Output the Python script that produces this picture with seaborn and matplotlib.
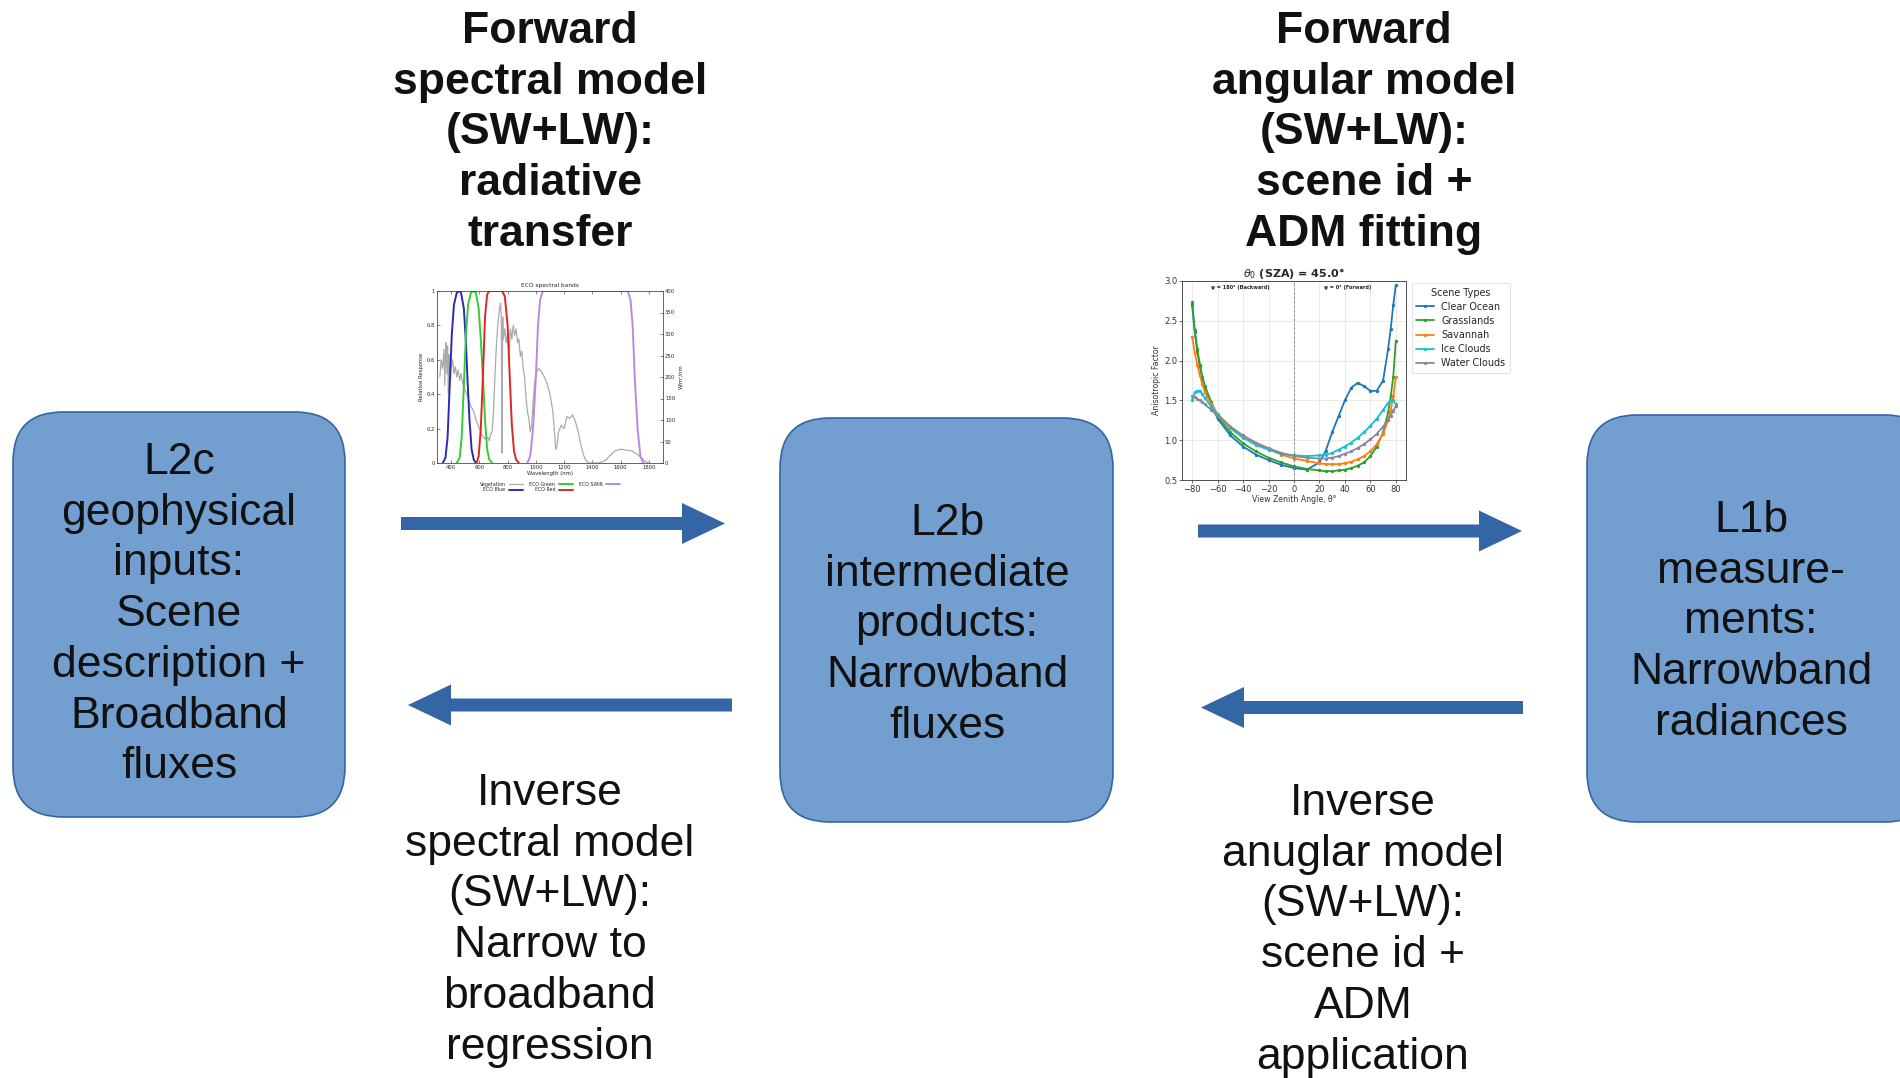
#flow diagram: spectral / angular forward and inverse models

import pandas as pd
import matplotlib
matplotlib.use('Agg')
import matplotlib.pyplot as plt
from matplotlib.patches import FancyBboxPatch, FancyArrow
import seaborn as sns

W, H = 1900, 1078

# --- spectral panel (ECO spectral bands)
veg_wl = [320, 330, 340, 350, 355, 360, 365, 370, 375, 380, 385, 390, 395, 400, 410, 420, 430, 440,
          450, 460, 470, 480, 490, 500, 520, 540, 560, 580, 600, 620, 640, 660, 670, 680, 690, 700,
          710, 720, 730, 740, 750, 755, 760, 762, 765, 770, 780, 790, 800, 810, 820, 830, 840, 850,
          860, 870, 880, 890, 900, 910, 920, 930, 940, 950, 960, 970, 980, 990, 1000, 1020, 1040,
          1060, 1080, 1100, 1120, 1130, 1140, 1150, 1160, 1180, 1200, 1220, 1240, 1260, 1280, 1300,
          1320, 1340, 1360, 1380, 1400, 1440, 1480, 1500, 1520, 1560, 1600, 1640, 1680, 1720, 1760,
          1780, 1800]
veg_resp = [0.50, 0.60, 0.55, 0.66, 0.45, 0.62, 0.70, 0.52, 0.68, 0.40, 0.63, 0.58, 0.48, 0.56, 0.60,
            0.52, 0.56, 0.50, 0.54, 0.48, 0.52, 0.47, 0.44, 0.42, 0.38, 0.33, 0.30, 0.24, 0.20, 0.16,
            0.14, 0.15, 0.13, 0.17, 0.18, 0.30, 0.50, 0.68, 0.80, 0.88, 0.93, 0.85, 0.06, 0.40, 0.85,
            0.72, 0.78, 0.70, 0.75, 0.62, 0.78, 0.72, 0.80, 0.74, 0.78, 0.70, 0.72, 0.62, 0.65, 0.55,
            0.50, 0.38, 0.30, 0.26, 0.18, 0.22, 0.35, 0.45, 0.52, 0.55, 0.53, 0.50, 0.46, 0.40, 0.30,
            0.20, 0.08, 0.10, 0.18, 0.22, 0.20, 0.27, 0.26, 0.28, 0.24, 0.18, 0.10, 0.04, 0.01, 0.0,
            0.0, 0.0, 0.01, 0.02, 0.04, 0.07, 0.08, 0.075, 0.07, 0.05, 0.02, 0.005, 0.0]
blue_wl = [340, 360, 375, 390, 405, 420, 440, 455, 470, 490, 505, 515, 530, 545, 560, 575]
blue_resp = [0, 0.03, 0.15, 0.45, 0.75, 0.92, 0.99, 1.0, 0.99, 0.9, 0.7, 0.5, 0.25, 0.08, 0.02, 0]
green_wl = [440, 460, 475, 490, 505, 520, 540, 558, 575, 595, 610, 625, 640, 655, 670, 690]
green_resp = [0, 0.03, 0.15, 0.45, 0.75, 0.92, 0.99, 1.0, 0.99, 0.9, 0.72, 0.5, 0.25, 0.08, 0.02, 0]
red_wl = [580, 595, 610, 625, 640, 655, 670, 760, 780, 800, 815, 830, 845, 860, 880]
red_resp = [0, 0.04, 0.2, 0.5, 0.85, 0.98, 1.0, 1.0, 0.97, 0.8, 0.5, 0.22, 0.07, 0.02, 0]
swir_wl = [940, 960, 980, 1000, 1015, 1030, 1050, 1650, 1670, 1685, 1700, 1720, 1740, 1760]
swir_resp = [0, 0.04, 0.2, 0.5, 0.8, 0.95, 1.0, 1.0, 0.95, 0.8, 0.5, 0.2, 0.04, 0]
band_names = ['Vegetation', 'ECO Blue', 'ECO Green', 'ECO Red', 'ECO SWIR']
band_colors = ['#ababab', '#2b2bb8', '#33cc33', '#dd2626', '#b48be0']
wl_ticks = [400, 600, 800, 1000, 1200, 1400, 1600, 1800]
irr_ticks = [0, 50, 100, 150, 200, 250, 300, 350, 400]

# --- angular panel (ADM)
vza = [-80, -78, -76, -74, -72, -70, -65, -60, -50, -40, -30, -20, -10, 0, 10, 20, 25, 30, 35,
       40, 45, 50, 55, 60, 65, 70, 74, 76, 78, 80]
clear_ocean = [2.7, 2.36, 2.12, 1.93, 1.78, 1.66, 1.45, 1.27, 1.06, 0.92, 0.82, 0.75, 0.69, 0.65, 0.63,
               0.72, 0.87, 1.1, 1.3, 1.5, 1.66, 1.72, 1.68, 1.62, 1.62, 1.75, 2.15, 2.4, 2.7, 2.95]
grasslands = [2.73, 2.38, 2.15, 1.95, 1.8, 1.68, 1.48, 1.3, 1.1, 0.96, 0.86, 0.78, 0.72, 0.67, 0.64,
              0.62, 0.61, 0.61, 0.62, 0.63, 0.65, 0.68, 0.72, 0.8, 0.92, 1.1, 1.35, 1.55, 1.8, 2.25]
savannah = [2.3, 2.1, 1.95, 1.82, 1.7, 1.6, 1.45, 1.33, 1.17, 1.05, 0.96, 0.89, 0.82, 0.77, 0.74,
            0.71, 0.7, 0.7, 0.7, 0.71, 0.73, 0.76, 0.8, 0.86, 0.95, 1.08, 1.25, 1.38, 1.55, 1.8]
ice_clouds = [1.5, 1.6, 1.62, 1.62, 1.58, 1.53, 1.42, 1.32, 1.15, 1.03, 0.94, 0.88, 0.83, 0.81, 0.8,
              0.81, 0.82, 0.84, 0.88, 0.92, 0.97, 1.03, 1.1, 1.18, 1.27, 1.38, 1.47, 1.5, 1.5, 1.45]
water_clouds = [1.55, 1.54, 1.52, 1.5, 1.48, 1.45, 1.38, 1.3, 1.17, 1.06, 0.97, 0.9, 0.84, 0.8, 0.78,
                0.77, 0.77, 0.78, 0.8, 0.83, 0.86, 0.9, 0.95, 1.01, 1.08, 1.17, 1.26, 1.31, 1.37, 1.43]
scene_types = ['Clear Ocean', 'Grasslands', 'Savannah', 'Ice Clouds', 'Water Clouds']
scene_colors = ['#1f77b4', '#2ca02c', '#ff7f0e', '#17becf', '#8a879a']
vza_ticks = [-80, -60, -40, -20, 0, 20, 40, 60, 80]
af_ticks = [0.5, 1.0, 1.5, 2.0, 2.5, 3.0]

# --- diagram texts
fwd_spectral = ['Forward', 'spectral model', '(SW+LW):', 'radiative', 'transfer']
fwd_angular = ['Forward', 'angular model', '(SW+LW):', 'scene id +', 'ADM fitting']
inv_spectral = ['Inverse', 'spectral model', '(SW+LW):', 'Narrow to', 'broadband', 'regression']
inv_angular = ['Inverse', 'anuglar model', '(SW+LW):', 'scene id +', 'ADM', 'application']
l2c_lines = ['L2c', 'geophysical', 'inputs:', 'Scene', 'description +', 'Broadband', 'fluxes']
l2b_lines = ['L2b', 'intermediate', 'products:', 'Narrowband', 'fluxes']
l1b_lines = ['L1b', 'measure-', 'ments:', 'Narrowband', 'radiances']

BOX_FILL = '#729fcf'
BOX_EDGE = '#3465a4'
ARROW = '#3465a4'
STEP = 50.7


def put_lines(ax, x, y0, lines, weight='normal'):
    for i, line in enumerate(lines):
        ax.text(x, y0 + i * STEP, line, ha='center', va='baseline', fontsize=32,
                fontweight=weight, family='Liberation Sans', color='#111111')


def add_box(ax, x0, y0, x1, y1):
    ax.add_patch(FancyBboxPatch((x0, y0), x1 - x0, y1 - y0,
                                boxstyle='round,pad=0,rounding_size=50',
                                facecolor=BOX_FILL, edgecolor=BOX_EDGE, linewidth=1.2))


def add_arrow(ax, x0, x1, y):
    ax.add_patch(FancyArrow(x0, y, x1 - x0, 0, width=13, head_width=41, head_length=43,
                            length_includes_head=True, color=ARROW, linewidth=0))


def spectral_panel(fig):
    ax = fig.add_axes([437 / W, 1 - 463 / H, 226 / W, 172 / H])
    curves = [(veg_wl, veg_resp), (blue_wl, blue_resp), (green_wl, green_resp),
              (red_wl, red_resp), (swir_wl, swir_resp)]
    spec = pd.concat([pd.DataFrame({'wl': w, 'resp': r, 'band': n})
                      for (w, r), n in zip(curves, band_names)])
    sns.lineplot(data=spec, x='wl', y='resp', hue='band', hue_order=band_names,
                 palette=dict(zip(band_names, band_colors)), estimator=None, sort=False,
                 legend=False, linewidth=1.4, ax=ax)
    ax.get_lines()[0].set_linewidth(0.9)
    ax.set_xlim(300, 1900)
    ax.set_ylim(0, 1)
    ax.set_xticks(wl_ticks)
    ax.set_yticks([0, 0.2, 0.4, 0.6, 0.8, 1.0])
    ax.set_yticklabels(['0', '0.2', '0.4', '0.6', '0.8', '1'])
    ax.tick_params(direction='in', length=2, width=0.4, labelsize=3.8, pad=1.5, top=True)
    ax.set_xlabel('Wavelength (nm)', fontsize=3.8, labelpad=1)
    ax.set_ylabel('Relative Response', fontsize=3.8, labelpad=2)
    ax.set_title('ECO spectral bands', fontsize=4.2, pad=3)
    for s in ax.spines.values():
        s.set_linewidth(0.4)
        s.set_color('#444444')
    axr = ax.twinx()
    axr.set_ylim(0, 400)
    axr.set_yticks(irr_ticks)
    axr.tick_params(direction='in', length=2, width=0.4, labelsize=3.8, pad=1.5)
    axr.set_ylabel('W/m²/nm', fontsize=3.8, labelpad=2)
    for s in axr.spines.values():
        s.set_linewidth(0.4)
        s.set_color('#444444')
    ax.legend(ax.get_lines()[:5], band_names, ncol=3, loc='upper center',
              bbox_to_anchor=(0.5, -0.1), fontsize=3.4, frameon=False, markerfirst=False,
              handlelength=3, columnspacing=1.2, labelspacing=0.05, borderaxespad=0)


def angular_panel(fig):
    ax = fig.add_axes([1182 / W, 1 - 480 / H, 224 / W, 199 / H])
    series = [clear_ocean, grasslands, savannah, ice_clouds, water_clouds]
    adm = pd.concat([pd.DataFrame({'vza': vza, 'af': v, 'scene': n})
                     for v, n in zip(series, scene_types)])
    sns.lineplot(data=adm, x='vza', y='af', hue='scene', hue_order=scene_types,
                 palette=dict(zip(scene_types, scene_colors)), estimator=None, sort=False,
                 legend=False, linewidth=1.3, marker='o', markersize=2.4, markeredgewidth=0,
                 ax=ax)
    handles = ax.get_lines()[:5]
    ax.axvline(0, color='#888888', linestyle='--', linewidth=0.6)
    ax.set_xlim(-88, 88)
    ax.set_ylim(0.5, 3.0)
    ax.set_xticks(vza_ticks)
    ax.set_yticks(af_ticks)
    ax.grid(True, color='#e2e2e2', linewidth=0.5)
    ax.tick_params(length=2, width=0.5, labelsize=6, pad=1.5, colors='#333333')
    ax.set_xlabel('View Zenith Angle, θ°', fontsize=5.6, labelpad=1, color='#333333')
    ax.set_ylabel('Anisotropic Factor', fontsize=5.6, labelpad=2, color='#333333')
    ax.set_title(r'$\theta_0$ (SZA) = 45.0°', fontsize=8, fontweight='bold', pad=2)
    ax.text(0.26, 0.965, 'φ = 180° (Backward)', transform=ax.transAxes, fontsize=3.6,
            fontweight='bold', ha='center', va='center')
    ax.text(0.74, 0.965, 'φ = 0° (Forward)', transform=ax.transAxes, fontsize=3.6,
            fontweight='bold', ha='center', va='center')
    for s in ax.spines.values():
        s.set_linewidth(0.6)
        s.set_color('#333333')
    leg = ax.legend(handles, scene_types, title='Scene Types', loc='upper left',
                    bbox_to_anchor=(1.025, 0.99), fontsize=6.9, title_fontsize=6.9,
                    handlelength=1.8, borderaxespad=0, labelspacing=0.42, borderpad=0.5)
    leg.get_frame().set_linewidth(0.5)


def main():
    sns.set_theme(style='ticks')
    plt.rcParams['font.family'] = ['DejaVu Sans']
    fig = plt.figure(figsize=(W / 100, H / 100), dpi=100)
    fig.patch.set_facecolor('white')

    bg = fig.add_axes([0, 0, 1, 1])
    bg.set_xlim(0, W)
    bg.set_ylim(H, 0)
    bg.axis('off')

    add_box(bg, 13, 412, 345, 817)
    add_box(bg, 780, 418, 1113, 822)
    add_box(bg, 1587, 415, 1935, 822)

    add_arrow(bg, 401, 725, 523.5)
    add_arrow(bg, 732, 408, 705)
    add_arrow(bg, 1198, 1522, 531)
    add_arrow(bg, 1523, 1201, 707.5)

    put_lines(bg, 550, 43, fwd_spectral, 'bold')
    put_lines(bg, 1364, 43, fwd_angular, 'bold')
    put_lines(bg, 550, 805, inv_spectral)
    put_lines(bg, 1363, 815, inv_angular)
    put_lines(bg, 179, 474, l2c_lines)
    put_lines(bg, 947, 535, l2b_lines)
    put_lines(bg, 1751, 532, l1b_lines)

    spectral_panel(fig)
    angular_panel(fig)

    fig.savefig('out.png', dpi=100, facecolor='white')


if __name__ == '__main__':
    main()
